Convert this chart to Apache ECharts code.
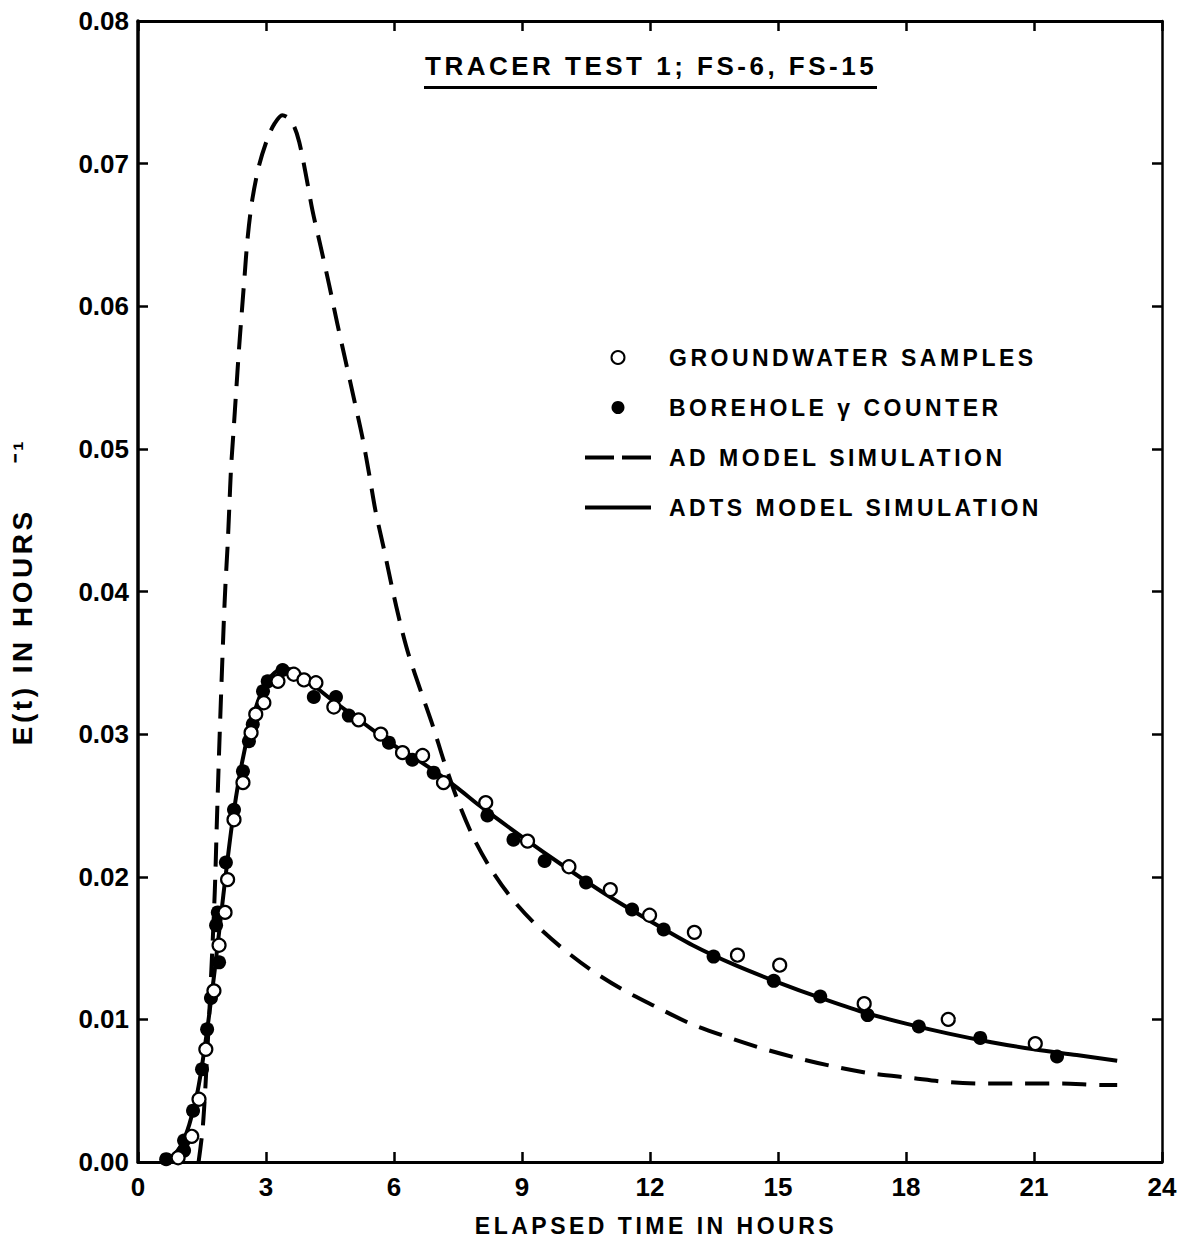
<!DOCTYPE html>
<html>
<head>
<meta charset="utf-8">
<script src="https://cdn.jsdelivr.net/npm/echarts@6/dist/echarts.min.js"></script>
<style>
  html, body { margin: 0; padding: 0; background: #fff; }
  #chart { width: 1183px; height: 1245px; }
  /* the lettering on the original figure is wide, spread it out a bit */
  #chart text[style*="Helvetica"] { letter-spacing: 3.5px; }
</style>
</head>
<body>
<div id="chart"></div>
<script>
// E(t) in hours^-1 against elapsed time in hours
var groundwater = [
  [0.94, 0.0003], [1.26, 0.0018], [1.43, 0.0044], [1.59, 0.0079], [1.78, 0.0120],
  [1.90, 0.0152], [2.04, 0.0175], [2.10, 0.0198], [2.25, 0.0240], [2.46, 0.0266],
  [2.65, 0.0301], [2.76, 0.0314], [2.95, 0.0322], [3.28, 0.0337], [3.65, 0.0342],
  [3.89, 0.0338], [4.17, 0.0336], [4.59, 0.0319], [5.17, 0.0310], [5.69, 0.0300],
  [6.20, 0.0287], [6.67, 0.0285], [7.16, 0.0266], [8.15, 0.0252], [9.13, 0.0225],
  [10.1, 0.0207], [11.07, 0.0191], [11.99, 0.0173], [13.04, 0.0161], [14.05, 0.0145],
  [15.04, 0.0138], [17.02, 0.0111], [18.99, 0.0100], [21.03, 0.0083]
];

var borehole = [
  [0.66, 0.0002], [1.08, 0.0008], [1.08, 0.0015], [1.29, 0.0036], [1.50, 0.0065],
  [1.62, 0.0093], [1.71, 0.0115], [1.90, 0.0140], [1.83, 0.0166], [1.87, 0.0175],
  [2.06, 0.0210], [2.25, 0.0247], [2.46, 0.0274], [2.60, 0.0295], [2.69, 0.0307],
  [2.93, 0.0330], [3.04, 0.0337], [3.39, 0.0345], [4.12, 0.0326], [4.64, 0.0326],
  [4.94, 0.0313], [5.88, 0.0294], [6.43, 0.0282], [6.93, 0.0273], [8.19, 0.0243],
  [8.80, 0.0226], [9.53, 0.0211], [10.5, 0.0196], [11.58, 0.0177], [12.32, 0.0163],
  [13.49, 0.0144], [14.90, 0.0127], [15.99, 0.0116], [17.10, 0.0103], [18.30, 0.0095],
  [19.74, 0.0087], [21.54, 0.0074]
];

var adModel = [
  [1.42, 0], [1.52, 0.0025], [1.62, 0.0075], [1.72, 0.0135], [1.80, 0.0190],
  [1.85, 0.0240], [1.90, 0.0287], [1.95, 0.0330], [2.01, 0.0378],
  [2.05, 0.0405], [2.10, 0.0432], [2.14, 0.0459], [2.18, 0.0486], [2.24, 0.0513],
  [2.30, 0.0540], [2.36, 0.0567], [2.42, 0.0591], [2.49, 0.0618], [2.57, 0.0648],
  [2.68, 0.0675], [2.84, 0.0699], [3.04, 0.0718], [3.2, 0.0728], [3.38, 0.0734],
  [3.52, 0.0732], [3.66, 0.0726], [3.78, 0.0715], [3.93, 0.0693], [4.09, 0.0667],
  [4.28, 0.0642], [4.48, 0.0615], [4.67, 0.0588], [4.87, 0.0561], [5.07, 0.0534],
  [5.26, 0.0508], [5.42, 0.0482], [5.57, 0.0456], [5.77, 0.0429], [5.96, 0.0402],
  [6.16, 0.0376], [6.35, 0.0355], [6.63, 0.0330], [6.93, 0.0304], [7.16, 0.0282],
  [7.5, 0.0253], [7.87, 0.0227], [8.26, 0.0206], [8.73, 0.0186], [9.27, 0.0168],
  [9.9, 0.0151], [10.6, 0.0135], [11.35, 0.0121], [12.13, 0.0109], [12.95, 0.0097],
  [13.77, 0.0088], [14.59, 0.0080], [15.44, 0.0073], [16.3, 0.0067], [17.2, 0.0062],
  [18.1, 0.0059], [19.0, 0.0056], [19.9, 0.0055], [20.7, 0.0055], [21.66, 0.0055],
  [22.6, 0.0054], [22.95, 0.0054]
];

var adtsModel = [
  [0.55, 0], [0.8, 0.0004], [1.0, 0.0011], [1.2, 0.0026], [1.4, 0.0050],
  [1.6, 0.0088], [1.8, 0.0135], [2.0, 0.0187], [2.2, 0.0236], [2.4, 0.0274],
  [2.6, 0.0302], [2.8, 0.0322], [3.0, 0.0336], [3.2, 0.0343], [3.4, 0.0346],
  [3.7, 0.0344], [4.0, 0.0337], [4.5, 0.0325], [5.0, 0.0314], [5.5, 0.0303],
  [6.0, 0.0292], [6.5, 0.0283], [7.0, 0.0273], [7.5, 0.0262], [8.0, 0.0250],
  [9.0, 0.0228], [10.0, 0.0207], [11.0, 0.0187], [12.0, 0.0169], [13.0, 0.0152],
  [14.0, 0.0138], [15.0, 0.0126], [16.0, 0.0115], [17.0, 0.0105], [18.0, 0.0097],
  [19.0, 0.0090], [20.0, 0.0084], [21.0, 0.0079], [22.0, 0.0075], [22.95, 0.0071]
];

var seriesNames = [
  'GROUNDWATER SAMPLES',
  'BOREHOLE γ COUNTER',
  'AD MODEL SIMULATION',
  'ADTS MODEL SIMULATION'
];

var wide = 'Helvetica, Liberation Sans, sans-serif';
var plain = 'Liberation Sans, sans-serif';

var chart = echarts.init(document.getElementById('chart'), null, { renderer: 'svg' });

var option = {
  backgroundColor: '#fff',
  animation: false,
  title: {
    text: 'TRACER TEST 1; FS-6, FS-15',
    left: 420,
    top: 48,
    textStyle: { fontFamily: wide, fontSize: 26, fontWeight: 'bold', color: '#000' }
  },
  graphic: [{
    // underline of the title
    type: 'rect',
    shape: { x: 424, y: 86, width: 453, height: 3 },
    style: { fill: '#000' }
  }],
  legend: {
    orient: 'vertical',
    left: 578,
    top: 341,
    itemWidth: 66,
    itemHeight: 13,
    itemGap: 27,
    textStyle: { fontFamily: wide, fontSize: 23, fontWeight: 'bold', color: '#000', padding: [0, 0, 0, 13] },
    data: [
      { name: seriesNames[0] },
      { name: seriesNames[1] },
      { name: seriesNames[2], itemStyle: { opacity: 0 }, lineStyle: { color: '#000', type: [29, 8], width: 4 } },
      { name: seriesNames[3], itemStyle: { opacity: 0 }, lineStyle: { color: '#000', type: 'solid', width: 4 } }
    ]
  },
  grid: { left: 137, right: 21, top: 21, bottom: 83 },
  xAxis: [{
    type: 'value',
    min: 0, max: 24, interval: 3,
    name: 'ELAPSED TIME IN HOURS',
    nameLocation: 'middle',
    nameGap: 52,
    nameTextStyle: { fontFamily: wide, fontSize: 23, fontWeight: 'bold', color: '#000', padding: [0, 0, 0, 12] },
    axisLine: { onZero: false, lineStyle: { color: '#000', width: 3 } },
    axisTick: { inside: true, length: 10, lineStyle: { color: '#000', width: 2.5 } },
    axisLabel: { fontFamily: plain, fontSize: 26, fontWeight: 'bold', color: '#000', margin: 12 },
    splitLine: { show: false }
  }, {
    type: 'value',
    position: 'top',
    min: 0, max: 24, interval: 3,
    axisLine: { onZero: false, lineStyle: { color: '#000', width: 3 } },
    axisTick: { inside: true, length: 10, lineStyle: { color: '#000', width: 2.5 } },
    axisLabel: { show: false },
    splitLine: { show: false }
  }],
  yAxis: [{
    type: 'value',
    min: 0, max: 0.08, interval: 0.01,
    name: 'E(t) IN HOURS\u00a0\u00a0\u00a0\u00a0⁻¹',
    nameLocation: 'middle',
    nameGap: 102,
    nameTextStyle: { fontFamily: wide, fontSize: 28, fontWeight: 'bold', color: '#000' },
    axisLine: { onZero: false, lineStyle: { color: '#000', width: 3.5 } },
    axisTick: { inside: true, length: 10, lineStyle: { color: '#000', width: 2.5 } },
    axisLabel: {
      fontFamily: plain, fontSize: 26, fontWeight: 'bold', color: '#000', margin: 9,
      formatter: function (v) { return v.toFixed(2); }
    },
    splitLine: { show: false }
  }, {
    type: 'value',
    position: 'right',
    min: 0, max: 0.08, interval: 0.01,
    axisLine: { onZero: false, lineStyle: { color: '#000', width: 2.5 } },
    axisTick: { inside: true, length: 10, lineStyle: { color: '#000', width: 2.5 } },
    axisLabel: { show: false },
    splitLine: { show: false }
  }],
  series: [{
    name: seriesNames[2],
    type: 'line',
    data: adModel,
    symbol: 'none',
    smooth: 0.3,
    z: 2,
    lineStyle: { color: '#000', width: 4, type: [24, 13] },
    itemStyle: { color: '#000' }
  }, {
    name: seriesNames[3],
    type: 'line',
    data: adtsModel,
    symbol: 'none',
    smooth: 0.3,
    z: 3,
    lineStyle: { color: '#000', width: 4 },
    itemStyle: { color: '#000' }
  }, {
    name: seriesNames[1],
    type: 'scatter',
    data: borehole,
    symbol: 'circle',
    symbolSize: 14,
    z: 4,
    itemStyle: { color: '#000', opacity: 1 }
  }, {
    name: seriesNames[0],
    type: 'scatter',
    data: groundwater,
    symbol: 'circle',
    symbolSize: 13,
    z: 5,
    itemStyle: { color: '#fff', borderColor: '#000', borderWidth: 2.2, opacity: 1 }
  }]
};

chart.setOption(option);
</script>
</body>
</html>
